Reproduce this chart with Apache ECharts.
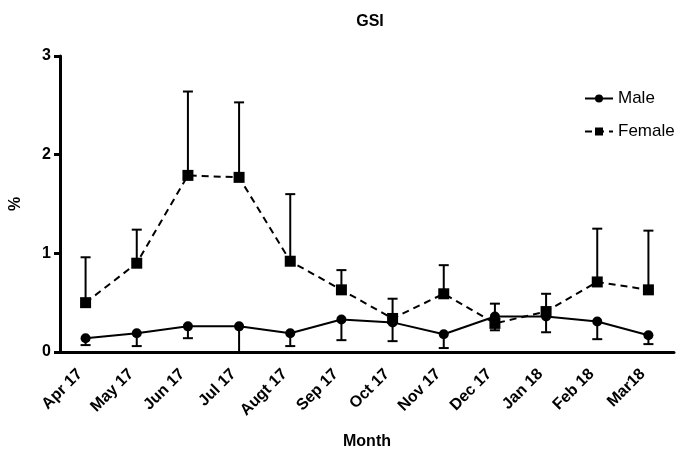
<!DOCTYPE html>
<html>
<head>
<meta charset="utf-8">
<script src="https://cdn.jsdelivr.net/npm/echarts@6/dist/echarts.min.js"></script>
<style>
  html, body { margin: 0; padding: 0; background: #fff; }
  #chart { width: 681px; height: 455px; }
</style>
</head>
<body>
<div id="chart"></div>
<script>
(function (echarts) {
  "use strict";

  var months = ['Apr 17', 'May 17', 'Jun 17', 'Jul 17', 'Augt 17', 'Sep 17',
    'Oct 17', 'Nov 17', 'Dec 17', 'Jan 18', 'Feb 18', 'Mar18'];

  // mean values (%)
  var male = [0.14, 0.19, 0.26, 0.26, 0.19, 0.33, 0.30, 0.18, 0.36, 0.36, 0.31, 0.17];
  var female = [0.50, 0.90, 1.79, 1.77, 0.92, 0.63, 0.34, 0.59, 0.29, 0.41, 0.71, 0.63];

  // error bar ends: male drawn downward, female upward
  var maleLow = [0.07, 0.06, 0.14, 0.0, 0.06, 0.12, 0.11, 0.04, 0.22, 0.20, 0.13, 0.08];
  var femaleHigh = [0.96, 1.24, 2.64, 2.53, 1.60, 0.83, 0.54, 0.88, 0.49, 0.59, 1.25, 1.23];

  var yTicks = [0, 1, 2, 3];

  var FONT = '"Liberation Sans", Arial, sans-serif';

  function errorData(mean, end) {
    return mean.map(function (v, i) { return [i, v, end[i]]; });
  }

  function renderError(params, api) {
    var from = api.coord([api.value(0), api.value(1)])
      , to = api.coord([api.value(0), api.value(2)])
      , half = 5
      , style = { stroke: '#000', lineWidth: 2 };
    return {
      type: 'group',
      children: [
        { type: 'line', shape: { x1: from[0], y1: from[1], x2: to[0], y2: to[1] }, style: style },
        { type: 'line', shape: { x1: to[0] - half, y1: to[1], x2: to[0] + half, y2: to[1] }, style: style }
      ]
    };
  }

  var chart = echarts.init(document.getElementById('chart'));

  chart.setOption({
    animation: false,
    textStyle: { fontFamily: FONT, color: '#000' },
    title: {
      text: 'GSI',
      left: 365,
      top: 9,
      textAlign: 'center',
      textStyle: { fontFamily: FONT, fontSize: 16, fontWeight: 'bold', color: '#000' }
    },
    legend: {
      left: 579,
      top: 85,
      orient: 'vertical',
      itemWidth: 28,
      itemHeight: 10,
      itemGap: 16,
      data: ['Male', 'Female'],
      textStyle: { fontFamily: FONT, fontSize: 17, color: '#000' }
    },
    grid: { left: 57, right: 7, top: 56, bottom: 98 },
    xAxis: {
      type: 'category',
      data: months,
      boundaryGap: true,
      name: 'Month',
      nameLocation: 'middle',
      nameGap: 82,
      nameTextStyle: { fontFamily: FONT, fontSize: 16, fontWeight: 'bold', color: '#000' },
      axisLine: { lineStyle: { color: '#000', width: 3 } },
      axisTick: { alignWithLabel: true, length: 8, lineStyle: { color: '#000', width: 3 } },
      axisLabel: {
        rotate: 45,
        margin: 14,
        padding: [0, 8, 0, 0],
        fontFamily: FONT,
        fontSize: 16,
        fontWeight: 'bold',
        color: '#000'
      },
      splitLine: { show: false }
    },
    yAxis: {
      type: 'value',
      min: yTicks[0],
      max: yTicks[yTicks.length - 1],
      interval: 1,
      name: '%',
      nameLocation: 'middle',
      nameGap: 36,
      nameRotate: 90,
      nameTextStyle: { fontFamily: FONT, fontSize: 16, fontWeight: 'bold', color: '#000' },
      axisLine: { show: true, lineStyle: { color: '#000', width: 3 } },
      axisTick: { show: true, length: 6, lineStyle: { color: '#000', width: 3 } },
      axisLabel: { margin: 9, fontFamily: FONT, fontSize: 16, fontWeight: 'bold', color: '#000' },
      splitLine: { show: false }
    },
    series: [
      {
        type: 'custom',
        name: 'maleErr',
        renderItem: renderError,
        data: errorData(male, maleLow),
        z: 1
      },
      {
        type: 'custom',
        name: 'femaleErr',
        renderItem: renderError,
        data: errorData(female, femaleHigh),
        z: 1
      },
      {
        type: 'line',
        name: 'Male',
        data: male,
        symbol: 'circle',
        symbolSize: 10,
        itemStyle: { color: '#000' },
        lineStyle: { color: '#000', width: 2 },
        z: 3
      },
      {
        type: 'line',
        name: 'Female',
        data: female,
        symbol: 'rect',
        symbolSize: 11,
        itemStyle: { color: '#000' },
        lineStyle: { color: '#000', width: 2, type: [7, 5] },
        z: 3
      }
    ]
  });
})(echarts);
</script>
</body>
</html>
